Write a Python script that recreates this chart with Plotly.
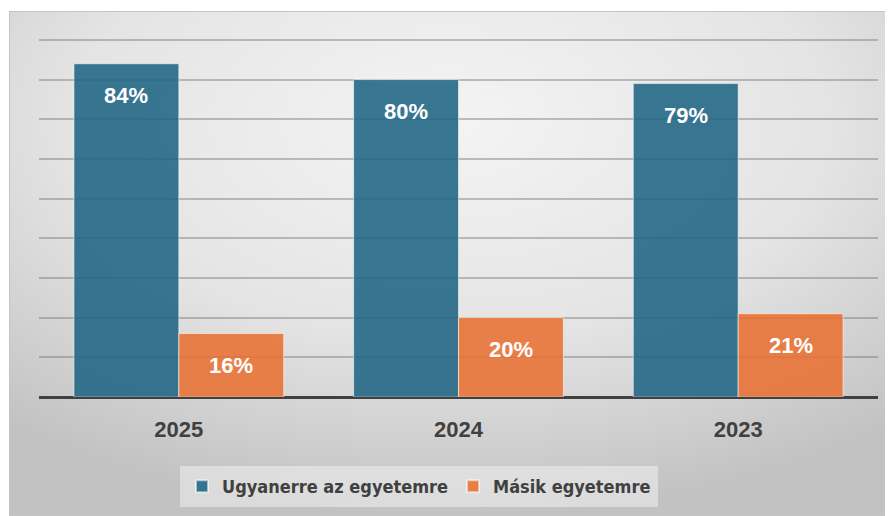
import base64
import plotly.graph_objects as go

years = ["2025", "2024", "2023"]
same_uni = [84, 80, 79]
other_uni = [16, 20, 21]
series_names = ["Ugyanerre az egyetemre", "Másik egyetemre"]

blue = "rgba(30,100,132,0.88)"
orange = "rgba(233,113,50,0.88)"

# page body has an 8px margin, so the figure is 8px smaller and offset
W, H = 885, 508
L, R, T, B = 31, 15, 28, 119
pw, ph = W - L - R, H - T - B

svg = '''<svg xmlns="http://www.w3.org/2000/svg" width="884" height="505" viewBox="0 0 884 505" preserveAspectRatio="none">
<defs><radialGradient id="g" cx="50%" cy="22%" r="78%" fx="50%" fy="22%">
<stop offset="0" stop-color="#f4f4f4"/><stop offset="0.55" stop-color="#e4e4e4"/><stop offset="1" stop-color="#c2c2c2"/>
</radialGradient></defs>
<rect x="0.5" y="0.5" width="883" height="504" fill="url(#g)" stroke="#c4c4c4" stroke-width="1"/>
</svg>'''
src = "data:image/svg+xml;base64," + base64.b64encode(svg.encode()).decode()

fig = go.Figure()
fig.add_trace(go.Bar(x=years, y=same_uni, name=series_names[0],
                     marker=dict(color=blue, line=dict(color="rgba(255,255,255,0.55)", width=1))))
fig.add_trace(go.Bar(x=years, y=other_uni, name=series_names[1],
                     marker=dict(color=orange, line=dict(color="rgba(255,255,255,0.55)", width=1))))

bar_px = pw / len(years) * 0.75 / 2
for vals, sh in ((same_uni, -bar_px / 2), (other_uni, bar_px / 2)):
    for i, v in enumerate(vals):
        fig.add_annotation(x=i, y=v, text=f"{v}%", showarrow=False, xshift=sh, yshift=-32,
                           yanchor="middle",
                           font=dict(family="Liberation Sans, Arial", size=22, color="white", weight="bold"))

fig.add_layout_image(dict(source=src, xref="paper", yref="paper",
                          x=(1 - L) / pw, y=(H - B - 3) / ph, sizex=(W - 1) / pw, sizey=(H - 3) / ph,
                          xanchor="left", yanchor="top", sizing="stretch", layer="below"))

legend_bg = "rgba(240,240,240,0.55)"
fig.update_layout(
    width=W, height=H, margin=dict(l=L, r=R, t=T, b=B, autoexpand=False),
    paper_bgcolor="white", plot_bgcolor="rgba(0,0,0,0)",
    barmode="group", bargap=0.25, bargroupgap=0,
    showlegend=True,
    legend=dict(orientation="h", x=(411 - L) / pw, xanchor="center", y=(H - B - 456) / ph, yanchor="top",
                bgcolor=legend_bg, bordercolor="rgba(240,240,240,0.0)", borderwidth=4,
                font=dict(family="DejaVu Sans Condensed, Liberation Sans Narrow, Arial Narrow", size=18,
                          color="#404040", weight="bold"),
                itemsizing="constant"),
    xaxis=dict(type="category", range=[-0.5, len(years) - 0.5], showgrid=False, showline=False,
               ticks="outside", ticklen=13, tickcolor="rgba(0,0,0,0)",
               tickfont=dict(family="Liberation Sans, Arial", size=22, color="#404040", weight="bold")),
    yaxis=dict(range=[0, 91], dtick=10, showticklabels=False, showgrid=True,
               gridcolor="rgba(120,120,120,0.45)", gridwidth=2,
               zeroline=True, zerolinecolor="#404040", zerolinewidth=3),
    font=dict(family="Liberation Sans, Arial"),
)
fig.write_html("out.html")
